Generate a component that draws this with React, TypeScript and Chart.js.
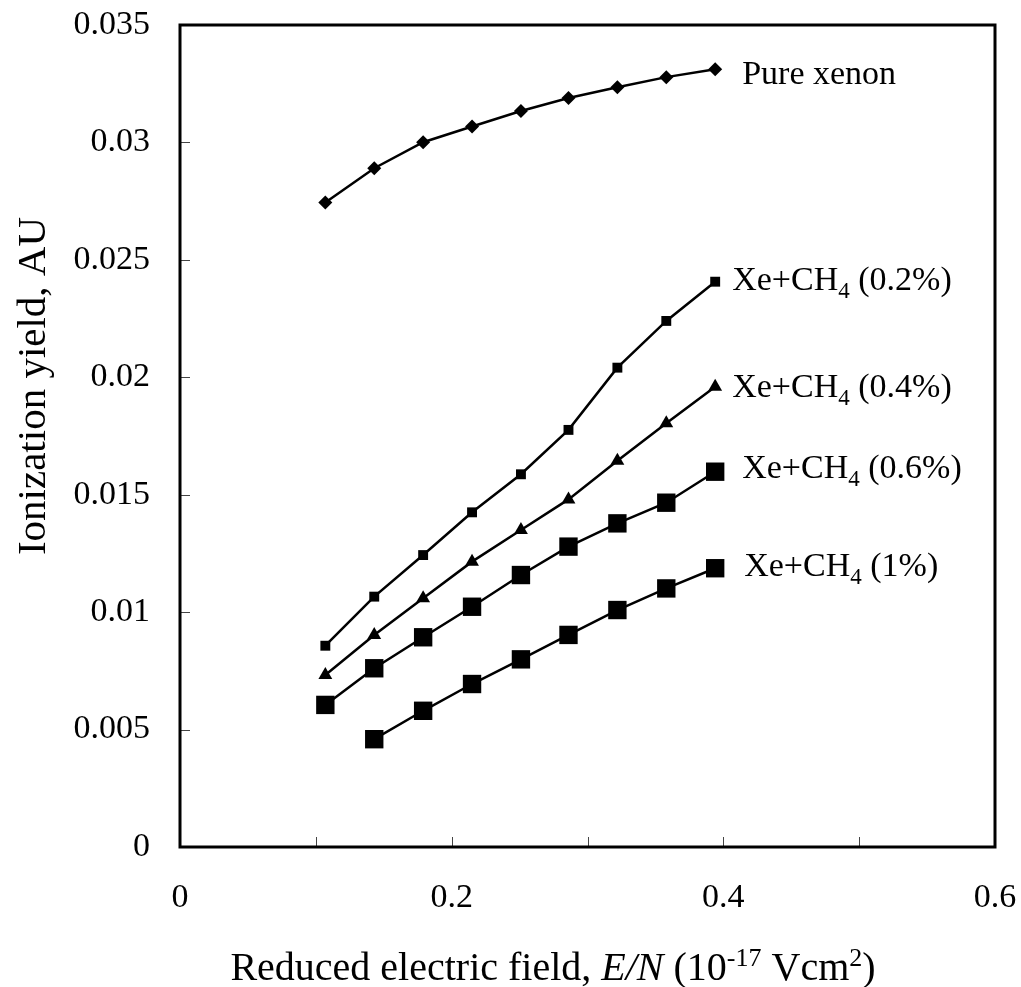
import React, { useEffect, useRef } from 'react';
import { Chart, registerables } from 'chart.js';

Chart.register(...registerables);

// ---------- data ----------
const fieldValues = [0.107, 0.143, 0.179, 0.215, 0.251, 0.286, 0.322, 0.358, 0.394];
const pureXenon = [0.02744, 0.0289, 0.03001, 0.03068, 0.03134, 0.03189, 0.03235, 0.03278, 0.03312];
const xeCh4_02 = [0.00857, 0.01066, 0.01243, 0.01425, 0.01587, 0.01776, 0.02041, 0.0224, 0.02407];
const xeCh4_04 = [0.00732, 0.00903, 0.01059, 0.01215, 0.0135, 0.0148, 0.01645, 0.01804, 0.0196];
const xeCh4_06 = [0.00605, 0.00761, 0.00893, 0.01023, 0.01158, 0.01279, 0.01378, 0.01466, 0.01598];
const xeCh4_1 = [null, 0.00459, 0.0058, 0.00694, 0.00799, 0.00903, 0.01009, 0.01101, 0.01187];

const seriesMain = ['Pure xenon', 'Xe+CH', 'Xe+CH', 'Xe+CH', 'Xe+CH'];
const seriesSub = ['', '4', '4', '4', '4'];
const seriesTail = ['', ' (0.2%)', ' (0.4%)', ' (0.6%)', ' (1%)'];

const yTickValues = [0, 0.005, 0.01, 0.015, 0.02, 0.025, 0.03, 0.035];
const yTickLabels = ['0', '0.005', '0.01', '0.015', '0.02', '0.025', '0.03', '0.035'];
const xTickValues = [0, 0.2, 0.4, 0.6];
const xTickLabels = ['0', '0.2', '0.4', '0.6'];
const xMinorTicks = [0.1, 0.2, 0.3, 0.4, 0.5];

const yTitle = 'Ionization yield, AU';

const SERIF = "'Liberation Serif', 'Times New Roman', serif";

const toPoints = (ys: (number | null)[]) =>
  fieldValues
    .map((x, i) => ({ x, y: ys[i] }))
    .filter((p) => p.y !== null) as { x: number; y: number }[];

// label offsets (px) relative to the last point of each series
const labelOffsets = [
  { dx: 27, dy: 15 },
  { dx: 17, dy: 8 },
  { dx: 17, dy: 10 },
  { dx: 27, dy: 6 },
  { dx: 29, dy: 8 },
];

const customPlugin = {
  id: 'customDraw',
  afterDraw(chart: any) {
    const ctx: CanvasRenderingContext2D = chart.ctx;
    const { left, right, top, bottom } = chart.chartArea;
    const xs = chart.scales.x;
    const ys = chart.scales.y;
    ctx.save();

    // inner tick marks
    ctx.strokeStyle = '#444';
    ctx.lineWidth = 1;
    yTickValues.forEach((v) => {
      const y = Math.round(ys.getPixelForValue(v)) + 0.5;
      ctx.beginPath();
      ctx.moveTo(left, y);
      ctx.lineTo(left + 10, y);
      ctx.stroke();
    });
    xMinorTicks.forEach((v) => {
      const x = Math.round(xs.getPixelForValue(v)) + 0.5;
      ctx.beginPath();
      ctx.moveTo(x, bottom);
      ctx.lineTo(x, bottom - 10);
      ctx.stroke();
    });

    // frame
    ctx.strokeStyle = '#000';
    ctx.lineWidth = 3;
    ctx.strokeRect(left, top, right - left, bottom - top);

    // tick labels
    ctx.fillStyle = '#000';
    ctx.font = `34px ${SERIF}`;
    ctx.textAlign = 'right';
    ctx.textBaseline = 'middle';
    yTickValues.forEach((v, i) => {
      ctx.fillText(yTickLabels[i], left - 30, ys.getPixelForValue(v));
    });
    ctx.textAlign = 'center';
    xTickValues.forEach((v, i) => {
      ctx.fillText(xTickLabels[i], xs.getPixelForValue(v), bottom + 51);
    });

    // series labels
    ctx.textBaseline = 'alphabetic';
    ctx.textAlign = 'left';
    chart.data.datasets.forEach((ds: any, i: number) => {
      const meta = chart.getDatasetMeta(i);
      const last = meta.data[meta.data.length - 1];
      let x = last.x + labelOffsets[i].dx;
      const y = last.y + labelOffsets[i].dy;
      ctx.font = `34px ${SERIF}`;
      ctx.fillText(seriesMain[i], x, y);
      x += ctx.measureText(seriesMain[i]).width;
      if (seriesSub[i]) {
        ctx.font = `23px ${SERIF}`;
        ctx.fillText(seriesSub[i], x, y + 8);
        x += ctx.measureText(seriesSub[i]).width;
      }
      if (seriesTail[i]) {
        ctx.font = `34px ${SERIF}`;
        ctx.fillText(seriesTail[i], x, y);
      }
    });

    // y title
    ctx.save();
    ctx.translate(45, 386);
    ctx.rotate(-Math.PI / 2);
    ctx.font = `41px ${SERIF}`;
    ctx.textAlign = 'center';
    ctx.textBaseline = 'alphabetic';
    ctx.fillText(yTitle, 0, 0);
    ctx.restore();

    // x title
    const parts = [
      { t: 'Reduced electric field, ', f: `40px ${SERIF}`, dy: 0 },
      { t: 'E/N', f: `italic 40px ${SERIF}`, dy: 0 },
      { t: ' (10', f: `40px ${SERIF}`, dy: 0 },
      { t: '-17', f: `26px ${SERIF}`, dy: -14 },
      { t: ' Vcm', f: `40px ${SERIF}`, dy: 0 },
      { t: '2', f: `26px ${SERIF}`, dy: -14 },
      { t: ')', f: `40px ${SERIF}`, dy: 0 },
    ];
    ctx.textAlign = 'left';
    let total = 0;
    parts.forEach((p) => {
      ctx.font = p.f;
      total += ctx.measureText(p.t).width;
    });
    let px = 553 - total / 2;
    const baseY = 980;
    parts.forEach((p) => {
      ctx.font = p.f;
      ctx.fillText(p.t, px, baseY + p.dy);
      px += ctx.measureText(p.t).width;
    });

    ctx.restore();
  },
};

export default function App() {
  const canvasRef = useRef<HTMLCanvasElement | null>(null);

  useEffect(() => {
    if (!canvasRef.current) return;
    const common = {
      showLine: true,
      borderColor: '#000',
      backgroundColor: '#000',
      pointBorderColor: '#000',
      pointBackgroundColor: '#000',
      borderWidth: 2.5,
      pointBorderWidth: 0,
      pointHoverRadius: 0,
    };
    const chart = new Chart(canvasRef.current, {
      type: 'scatter',
      data: {
        datasets: [
          { ...common, label: 'Pure xenon', data: toPoints(pureXenon), pointStyle: 'rectRot', pointRadius: 7 },
          { ...common, label: 'Xe+CH4 (0.2%)', data: toPoints(xeCh4_02), pointStyle: 'rect', pointRadius: 7 },
          { ...common, label: 'Xe+CH4 (0.4%)', data: toPoints(xeCh4_04), pointStyle: 'triangle', pointRadius: 8 },
          { ...common, label: 'Xe+CH4 (0.6%)', data: toPoints(xeCh4_06), pointStyle: 'rect', pointRadius: 13 },
          { ...common, label: 'Xe+CH4 (1%)', data: toPoints(xeCh4_1), pointStyle: 'rect', pointRadius: 13 },
        ],
      },
      options: {
        animation: false,
        responsive: false,
        events: [],
        layout: { padding: { left: 0, top: 25, right: 26, bottom: 0 } },
        plugins: { legend: { display: false }, tooltip: { enabled: false } },
        scales: {
          x: {
            type: 'linear',
            min: 0,
            max: 0.6,
            afterFit: (s: any) => {
              s.height = 140;
            },
            grid: { display: false, drawTicks: false },
            border: { display: false },
            ticks: { display: false, stepSize: 0.2 },
          },
          y: {
            type: 'linear',
            min: 0,
            max: 0.035,
            afterFit: (s: any) => {
              s.width = 180;
            },
            grid: { display: false, drawTicks: false },
            border: { display: false },
            ticks: { display: false, stepSize: 0.005 },
          },
        },
      },
      plugins: [customPlugin],
    } as any);
    return () => chart.destroy();
  }, []);

  return (
    <div style={{ position: 'absolute', left: 0, top: 0, width: 1021, height: 987, background: '#fff' }}>
      <canvas ref={canvasRef} width={1021} height={987} style={{ width: 1021, height: 987 }} />
    </div>
  );
}
